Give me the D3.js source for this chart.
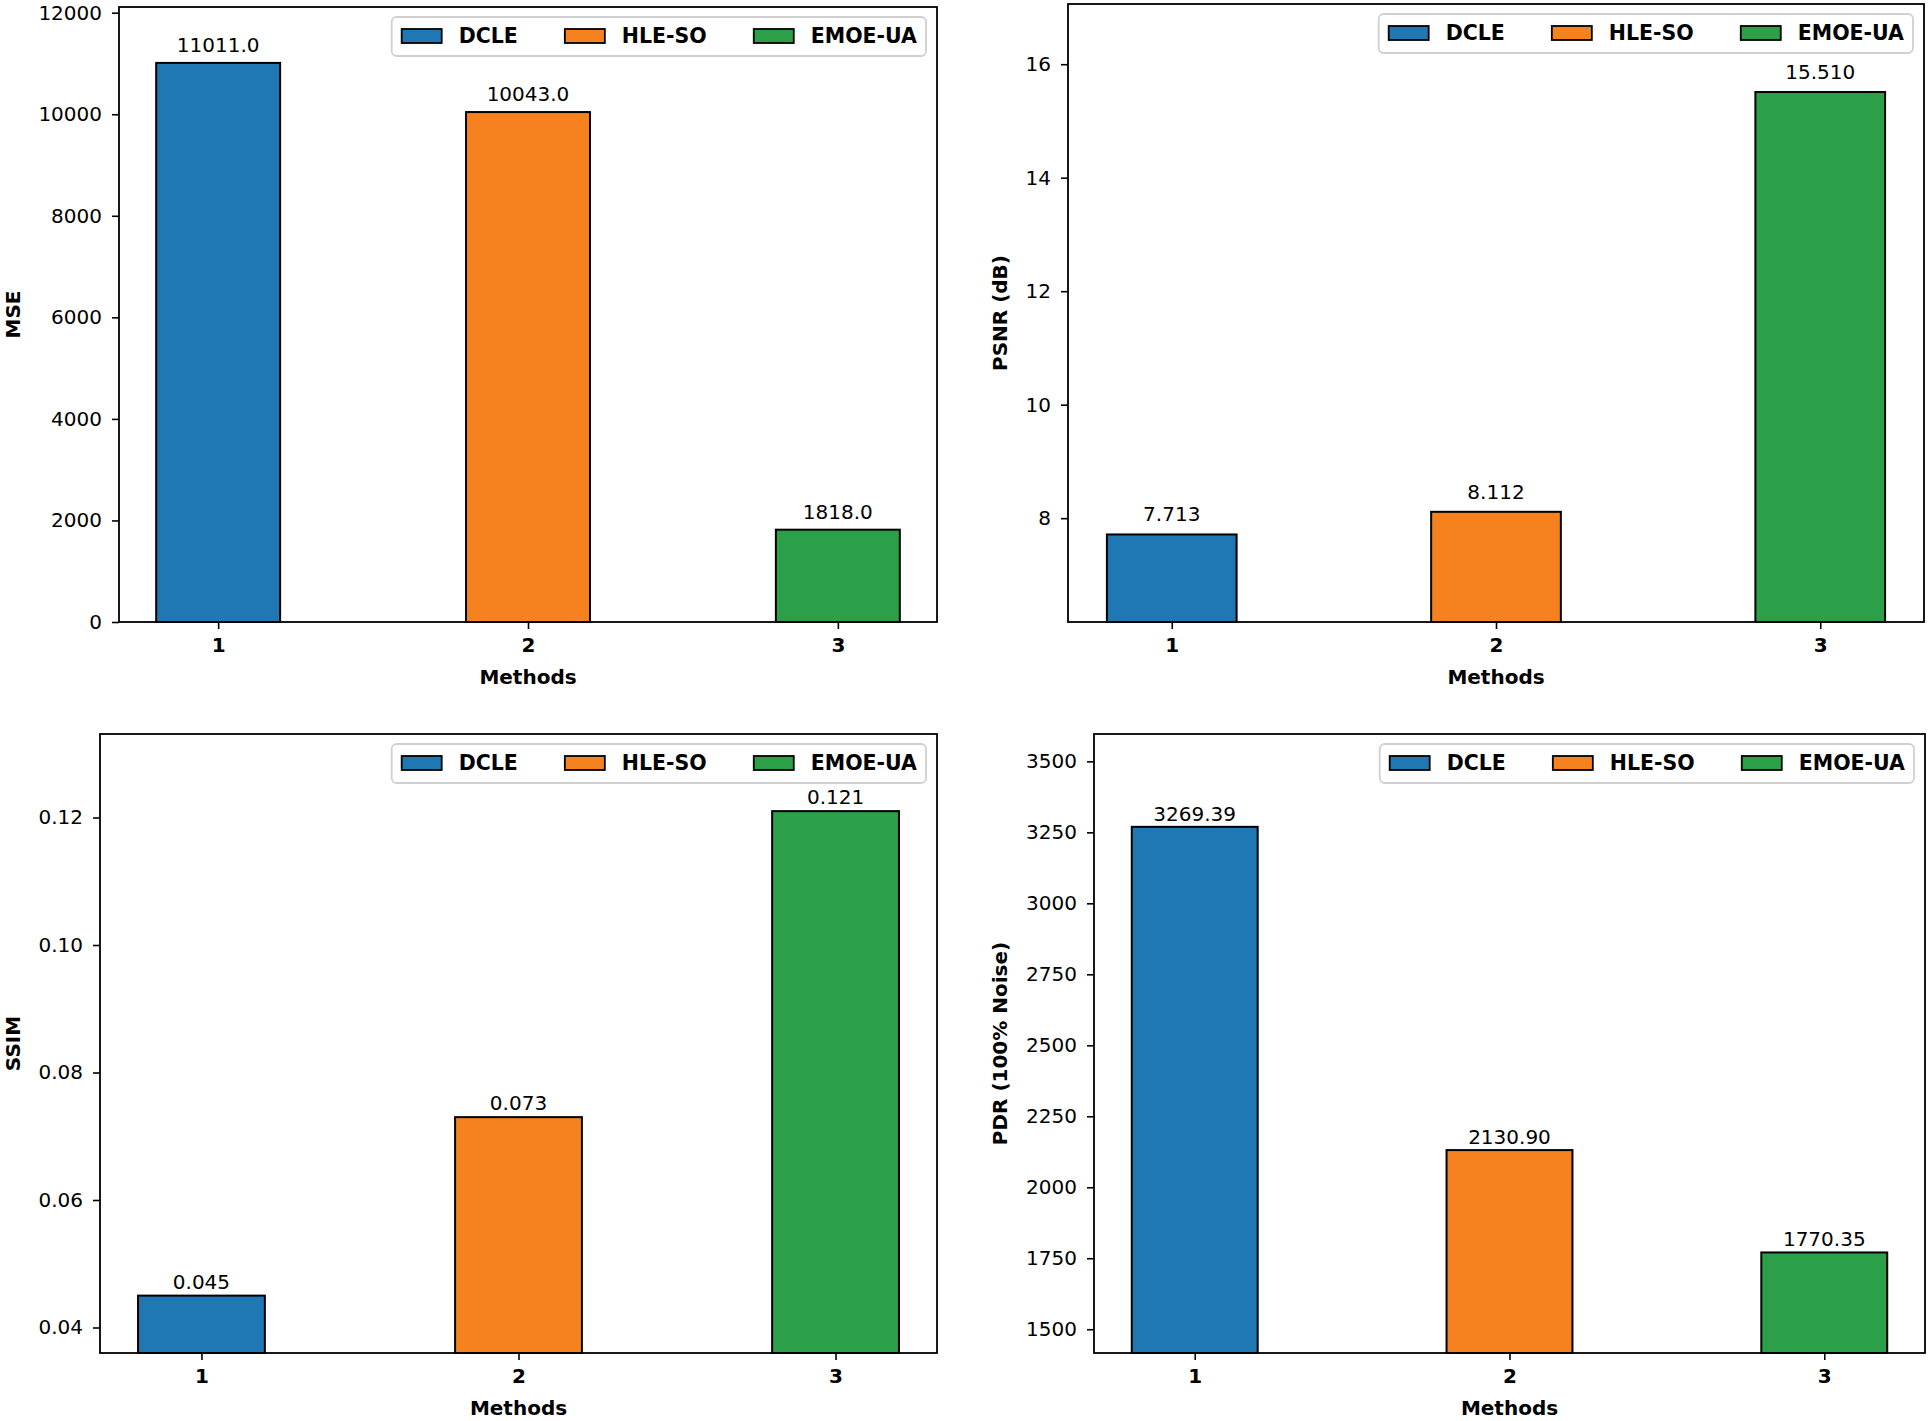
<!DOCTYPE html>
<html>
<head>
<meta charset="utf-8">
<script src="https://cdn.jsdelivr.net/npm/d3@7"></script>
<style>
  body { margin: 0; background: #fff; }
  text { font-family: "DejaVu Sans", sans-serif; }
</style>
</head>
<body>
<script>
const W = 1930, H = 1421;

// data
const methods = [1, 2, 3];
const seriesNames = ["DCLE", "HLE-SO", "EMOE-UA"];
const colors = ["#1f77b4", "#f5821f", "#2ca048"];
const mse = [11011.0, 10043.0, 1818.0];
const psnr = [7.713, 8.112, 15.510];
const ssim = [0.045, 0.073, 0.121];
const pdr = [3269.39, 2130.90, 1770.35];
const mseTicks = [0, 2000, 4000, 6000, 8000, 10000, 12000];
const psnrTicks = [8, 10, 12, 14, 16];
const ssimTicks = [0.04, 0.06, 0.08, 0.10, 0.12];
const pdrTicks = [1500, 1750, 2000, 2250, 2500, 2750, 3000, 3250, 3500];

const panels = [
  { values: mse, ticks: mseTicks, ylabel: "MSE", fmtTick: d3.format("d"), fmtVal: d3.format(".1f"), fromZero: true,
    box: { left: 119, right: 937, top: 7, bottom: 622 }, gap: 11 },
  { values: psnr, ticks: psnrTicks, ylabel: "PSNR (dB)", fmtTick: d3.format("d"), fmtVal: d3.format(".3f"), fromZero: false,
    box: { left: 1068, right: 1924, top: 4, bottom: 622 }, gap: 13 },
  { values: ssim, ticks: ssimTicks, ylabel: "SSIM", fmtTick: d3.format(".2f"), fmtVal: d3.format(".3f"), fromZero: false,
    box: { left: 100, right: 937, top: 734, bottom: 1353 }, gap: 7 },
  { values: pdr, ticks: pdrTicks, ylabel: "PDR (100% Noise)", fmtTick: d3.format("d"), fmtVal: d3.format(".2f"), fromZero: false,
    box: { left: 1094, right: 1925, top: 734, bottom: 1353 }, gap: 6 }
];

const svg = d3.select("body").append("svg")
  .attr("width", W).attr("height", H)
  .attr("viewBox", [0, 0, W, H]);

const barW = 0.4;

panels.forEach((p) => {
  const b = p.box;
  const lo = p.fromZero ? 0 : d3.min(p.values) * 0.8;
  const hi = d3.max(p.values) * 1.1;

  const x = d3.scaleLinear().domain([0.68, 3.32]).range([b.left, b.right]);
  const y = d3.scaleLinear().domain([lo, hi]).range([b.bottom, b.top]);

  const g = svg.append("g");

  // bars
  g.append("g")
    .selectAll("rect")
    .data(p.values)
    .join("rect")
    .attr("x", (d, i) => x(methods[i] - barW / 2))
    .attr("width", (d, i) => x(methods[i] + barW / 2) - x(methods[i] - barW / 2))
    .attr("y", (d) => y(d))
    .attr("height", (d) => y(lo) - y(d))
    .attr("fill", (d, i) => colors[i])
    .attr("stroke", "#000")
    .attr("stroke-width", 2);

  // value labels
  g.append("g")
    .selectAll("text")
    .data(p.values)
    .join("text")
    .attr("x", (d, i) => x(methods[i]))
    .attr("y", (d) => y(d) - p.gap)
    .attr("text-anchor", "middle")
    .attr("font-size", 20)
    .attr("fill", "#000")
    .text((d) => p.fmtVal(d));

  // axes
  const yAxis = g.append("g")
    .attr("transform", `translate(${b.left},0)`)
    .call(d3.axisLeft(y).tickValues(p.ticks).tickFormat(p.fmtTick).tickSize(7).tickPadding(10));
  yAxis.select(".domain").remove();
  yAxis.selectAll("line").attr("stroke", "#000").attr("stroke-width", 1.6);
  yAxis.selectAll("text").attr("font-size", 20).attr("fill", "#000").attr("font-family", "DejaVu Sans");

  const xAxis = g.append("g")
    .attr("transform", `translate(0,${b.bottom})`)
    .call(d3.axisBottom(x).tickValues(methods).tickFormat(d3.format("d")).tickSize(7).tickPadding(9));
  xAxis.select(".domain").remove();
  xAxis.selectAll("line").attr("stroke", "#000").attr("stroke-width", 1.6);
  xAxis.selectAll("text").attr("font-size", 20).attr("font-weight", "bold").attr("fill", "#000").attr("font-family", "DejaVu Sans");

  // frame
  g.append("rect")
    .attr("x", b.left).attr("y", b.top)
    .attr("width", b.right - b.left).attr("height", b.bottom - b.top)
    .attr("fill", "none").attr("stroke", "#000").attr("stroke-width", 1.8);

  // axis labels
  g.append("text")
    .attr("x", (b.left + b.right) / 2)
    .attr("y", b.bottom + 62)
    .attr("text-anchor", "middle")
    .attr("font-size", 20).attr("font-weight", "bold")
    .text("Methods");

  const bb = yAxis.node().getBBox();
  const lx = Math.max(b.left + bb.x - 19, 20);
  const ly = (b.top + b.bottom) / 2;
  g.append("text")
    .attr("transform", `translate(${lx},${ly}) rotate(-90)`)
    .attr("text-anchor", "middle")
    .attr("font-size", 20).attr("font-weight", "bold")
    .text(p.ylabel);

  // legend (upper right, 3 columns)
  const lg = g.append("g");
  const fs = 20.5, handle = 42, pad = 16, colSpace = 46, bpad = 9;
  const boxTop = b.top + 10, boxH = 39, boxRight = b.right - 11;
  const items = lg.selectAll("g").data(seriesNames).join("g");
  const texts = items.append("text")
    .attr("font-size", fs).attr("font-weight", "bold")
    .attr("fill", "#000")
    .text((d) => d);
  const widths = texts.nodes().map((n) => n.getComputedTextLength());
  const total = bpad * 2 + widths.reduce((a, w) => a + handle + pad + w, 0) + colSpace * 2;
  const boxLeft = boxRight - total;

  lg.insert("rect", ":first-child")
    .attr("x", boxLeft).attr("y", boxTop)
    .attr("width", total).attr("height", boxH)
    .attr("rx", 5)
    .attr("fill", "#fff").attr("fill-opacity", 0.8)
    .attr("stroke", "#d0d0d0").attr("stroke-width", 1.8);

  let cx = boxLeft + bpad;
  items.each(function (d, i) {
    const it = d3.select(this);
    it.insert("rect", "text")
      .attr("x", cx + 1).attr("y", boxTop + 12)
      .attr("width", handle - 2).attr("height", 14)
      .attr("fill", colors[i]).attr("stroke", "#000").attr("stroke-width", 1.8);
    it.select("text").attr("x", cx + handle + pad).attr("y", boxTop + 26);
    cx += handle + pad + widths[i] + colSpace;
  });
});
</script>
</body>
</html>
